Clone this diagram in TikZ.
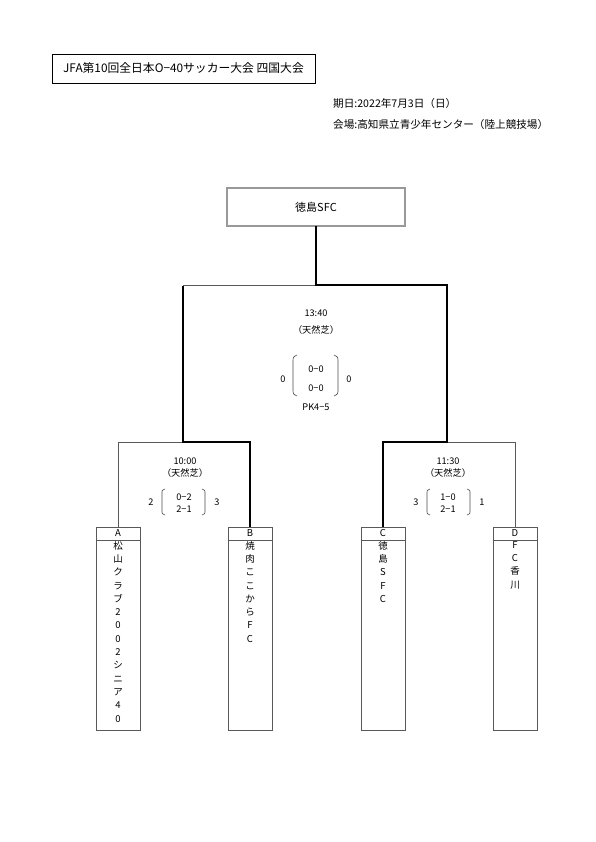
\documentclass[tikz,border=0pt]{standalone}
\usepackage{fontspec}
\setmainfont{Noto Sans CJK JP}
\begin{document}
\begin{tikzpicture}[x=1pt,y=-1pt,
  txt/.style={inner sep=0pt,font=\fontsize{9.2}{10}\selectfont},
  thinline/.style={draw=black!65,line width=0.8pt},
  thickline/.style={draw=black,line width=2.4pt},
  teambox/.style={draw=black!65,line width=0.8pt,minimum width=44pt,minimum height=203pt,anchor=north,inner sep=0pt},
  vtext/.style={inner sep=0pt,anchor=north,align=center,font=\fontsize{9.5}{13.3}\selectfont},
  paren/.style={draw=black!70,line width=0.6pt}]
\useasboundingbox (0,0) rectangle (595,842);
\fill[white] (0,0) rectangle (595,842);
% title
\node[draw,line width=0.8pt,minimum width=263pt,minimum height=29pt,inner sep=0pt,font=\fontsize{11.8}{13}\selectfont] (title) at (183.5,68.5) {JFA第10回全日本O−40サッカー大会 四国大会};
\node[txt,anchor=west,font=\fontsize{10.6}{12}\selectfont] (date) at (333,103) {期日:2022年7月3日（日）};
\node[txt,anchor=west,font=\fontsize{10.6}{12}\selectfont] (venue) at (333,124) {会場:高知県立青少年センター（陸上競技場）};
% winner
\node[draw=black!60,double=black!40,double distance=1.4pt,line width=0.6pt,minimum width=178pt,minimum height=38pt,inner sep=0pt,font=\fontsize{11}{12}\selectfont] (W) at (316,207) {徳島SFC};
% team boxes
\node[teambox] (A) at (118,527) {};
\node[teambox] (B) at (250,527) {};
\node[teambox] (C) at (383,527) {};
\node[teambox] (D) at (515,527) {};
\foreach \t in {A,B,C,D}{
  \draw[thinline] ([yshift=-13pt]\t.north west) -- ([yshift=-13pt]\t.north east);
  \node[txt,font=\fontsize{9.5}{10}\selectfont] (\t lab) at ([yshift=-6.5pt]\t.north) {\t};
}
\node[vtext] (An) at ([yshift=-14pt]A.north) {松\\山\\ク\\ラ\\ブ\\2\\0\\0\\2\\シ\\ニ\\ア\\4\\0};
\node[vtext] (Bn) at ([yshift=-14pt]B.north) {焼\\肉\\こ\\こ\\か\\ら\\F\\C};
\node[vtext] (Cn) at ([yshift=-14pt]C.north) {徳\\島\\S\\F\\C};
\node[vtext] (Dn) at ([yshift=-14pt]D.north) {F\\C\\香\\川};
% bracket junctions
\coordinate (jL) at (183,442);
\coordinate (jR) at (447,442);
\coordinate (cL) at (183,285);
\coordinate (cR) at (447,285);
\coordinate (jT) at (316,285);
\draw[thinline] (A.north) |- (jL);
\draw[thinline] (D.north) |- (jR);
\draw[thinline] (cL) -- (jT);
\draw[thickline,line join=miter] (B.north) |- (jL) -- ([yshift=-1.2pt]cL);
\draw[thickline,line join=miter] (C.north) |- (jR) -- (cR) -- (jT) -- (W.south);
% final
\node[txt] (tF) at (316,313) {13:40};
\node[txt] (gF) at (316,330) {（天然芝）};
\node[txt] (sF1) at (316,369) {0−0};
\node[txt] (sF2) at (316,388) {0−0};
\node[txt] (lF) at (283,379) {0};
\node[txt] (rF) at (349,379) {0};
\node[txt] (pk) at (316,407) {PK4−5};
\draw[paren] (297,355) .. controls (293,357) .. (293,362) -- (293,389) .. controls (293,394) .. (297,396);
\draw[paren] (334,355) .. controls (338,357) .. (338,362) -- (338,389) .. controls (338,394) .. (334,396);
% semi left
\node[txt] (tL) at (185,461) {10:00};
\node[txt] (gL) at (185,473) {（天然芝）};
\node[txt] (sL1) at (184,497) {0−2};
\node[txt] (sL2) at (184,509) {2−1};
\node[txt] (lL) at (151,502) {2};
\node[txt] (rL) at (217,502) {3};
\draw[paren] (165,489) .. controls (162,490) .. (162,494) -- (162,510) .. controls (162,514) .. (165,515);
\draw[paren] (202,489) .. controls (205,490) .. (205,494) -- (205,510) .. controls (205,514) .. (202,515);
% semi right
\node[txt] (tR) at (448,461) {11:30};
\node[txt] (gR) at (448,473) {（天然芝）};
\node[txt] (sR1) at (448,497) {1−0};
\node[txt] (sR2) at (448,509) {2−1};
\node[txt] (lR) at (416,502) {3};
\node[txt] (rR) at (482,502) {1};
\draw[paren] (430,489) .. controls (427,490) .. (427,494) -- (427,510) .. controls (427,514) .. (430,515);
\draw[paren] (467,489) .. controls (470,490) .. (470,494) -- (470,510) .. controls (470,514) .. (467,515);
\end{tikzpicture}
\end{document}
